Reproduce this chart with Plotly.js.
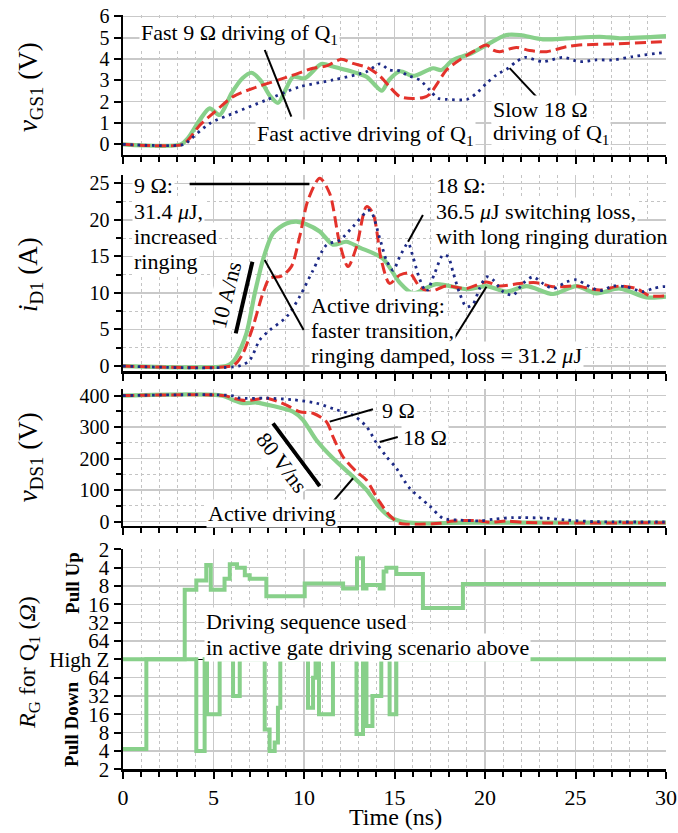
<!DOCTYPE html>
<html>
<head>
<meta charset="utf-8">
<script src="https://cdn.plot.ly/plotly-3.0.1.min.js"></script>
<style>html,body{margin:0;padding:0;background:#fff;}#chart{width:678px;height:833px;}</style>
</head>
<body>
<div id="chart"></div>
<script>
// ---------- Panel 1: gate-source voltage vGS1 (V) ----------
const vgsActiveT = [0,3.2,3.6,4.24,4.79,5.34,6.0,6.6,7.09,7.6,8.1,8.57,9.0,9.4,10.04,10.96,11.6,12.34,13.45,13.9,14.3,14.7,15.3,16.02,17.13,17.59,18.23,19.15,20.08,21.18,21.92,23.2,24.5,26.34,27.44,30];
const vgsActive  = [0,0,0.3,1.14,1.69,1.38,2.4,3.1,3.36,3.0,2.3,1.95,2.6,3.17,3.1,3.77,3.65,3.49,3.17,2.8,2.52,3.02,3.43,3.21,3.57,3.49,3.96,4.24,4.66,5.13,5.13,4.93,4.97,5.05,4.98,5.08];
const vgs9T = [0,3.3,3.7,4.24,4.97,6.08,7.18,8.29,9.39,10.5,11.24,12.07,12.7,13.5,14.2,14.73,15.3,16.0,16.6,16.94,17.4,17.87,18.6,19.34,20.08,20.44,20.8,21.73,22.47,23.4,24.5,25.2,27.07,30];
const vgs9  = [0,0,0.3,0.9,1.45,2.24,2.63,2.94,3.25,3.57,3.68,3.99,3.8,3.6,3.2,2.7,2.24,2.15,2.2,2.35,2.9,3.49,3.96,4.35,4.66,4.43,4.35,4.55,4.40,4.35,4.58,4.66,4.71,4.82];
const vgs18T = [0,3.4,3.68,4.79,6.08,7.92,9.76,11.6,13.45,14.2,14.7,15.3,15.66,16.39,16.94,17.4,17.9,19.0,19.52,20.08,20.63,21.27,21.73,22.2,23.2,24.3,25.23,26.15,27.07,28.18,29.83,30];
const vgs18  = [0,0,0.2,0.98,1.45,2.08,2.7,3.02,3.41,3.78,3.49,3.45,3.26,3.02,2.55,2.16,2.11,2.11,2.39,2.86,3.26,3.57,3.88,4.08,3.88,4.08,3.88,3.96,3.96,4.12,4.3,4.3];

// ---------- Panel 2: diode current iD1 (A) ----------
const idActiveT = [0,5.7,6.0,6.27,6.82,7.28,7.73,8.29,9.03,9.58,10.13,10.87,11.6,12.34,13.08,14.36,15.29,16.02,17.3,18.97,20.08,21.18,22.29,23.76,25.05,26.15,27.44,28.92,30];
const idActive  = [0,0,0.4,1.27,4.47,9.94,14.5,18.15,19.5,19.74,19.4,18.4,16.6,17.0,16.2,14.7,11.4,9.94,11.2,10.5,10.94,10.17,10.94,9.85,10.94,9.94,10.6,9.4,9.5];
const id9T = [0,6.0,6.3,6.63,7.18,7.73,8.1,8.75,9.3,9.76,10.22,10.87,11.42,11.97,12.43,12.9,13.45,13.81,14.27,14.73,15.29,15.84,16.39,16.94,17.87,18.97,20.08,20.8,21.92,22.84,23.76,25.05,26.34,27.44,28.37,29.1,30];
const id9  = [0,0,0.5,1.73,5.38,9.94,12.0,12.3,13.6,17.7,22.7,25.7,23.6,16.8,13.6,16.3,21.8,20.9,14.5,11.3,12.45,12.7,10.85,10.17,10.94,10.6,11.5,10.94,11.3,11.4,10.85,10.94,10.4,10.94,10.6,9.6,9.6];
const id18T = [0,6.4,7.0,7.55,8.1,9.03,9.76,10.5,11.24,11.97,12.7,13.63,14.18,14.55,14.92,15.29,15.75,16.02,16.39,16.76,17.22,17.68,17.96,18.25,18.6,18.97,19.34,19.7,20.08,20.44,21.0,21.55,22.1,22.65,23.2,23.76,24.5,25.05,25.6,26.34,27.07,27.8,28.73,29.28,29.83,30];
const id18  = [0,0,0.8,3.56,4.9,6.7,9.5,13.1,16.55,17.2,19.05,21.3,17.5,14.5,13.1,14.95,16.8,14.95,11.9,10.17,12.7,15.2,14.95,12.7,9.94,8.1,8.5,10.6,12.2,11.8,10.17,9.7,11.3,12.2,11.3,10.6,11.5,11.8,11.1,10.3,10.94,10.85,10.17,10.6,10.85,10.85];

// ---------- Panel 3: drain-source voltage vDS1 (V) ----------
const vdsActiveT = [0,5.5,6.08,6.63,7.37,8.29,9.39,9.94,10.68,11.6,12.7,13.45,14.18,14.73,15.29,16.0,16.94,18,20,25,30];
const vdsActive  = [400,400,386,376,378,367,349,323,259,201,143,101,45,16,2,-4,-6,-4,-3,-3,-3];
const vds9T = [0,5.6,6.08,6.82,7.92,9.03,9.76,10.5,11.24,11.6,12.15,12.89,13.45,14.0,14.18,14.73,15.29,16.4,17.5,18.23,19.5,20.26,21.18,22.1,23.5,30];
const vds9  = [400,400,392,384,392,370,349,344,317,270,206,159,132,79,63,20,-5,-8,-5,2,3.5,-2,2,-2,-4,-3];
const vds18T = [0,6.0,6.45,7.92,9.39,10.68,11.79,12.7,13.45,14.0,14.55,15.1,15.84,16.94,17.68,18.6,19.7,20.5,21.55,23.4,24.5,26.15,29.8,30];
const vds18  = [400,400,392,392,387,376,355,338,302,250,207,170,106,50,11,5,3,8,13,11,5,0,-1,-1];

// ---------- Panel 4: gate resistance sequence (ohm, 'Z' = high impedance) ----------
const pullUpT   = [0,3.41,4.05,4.6,4.85,5.61,5.9,6.3,6.73,7.0,7.92,10.04,12.16,12.93,13.26,13.45,14.18,14.4,14.55,15.1,16.57,18.78,30];
const pullUpOhm = ['Z',9.2,6.5,3.6,9.2,6.1,3.5,4,5.3,6.1,11.8,7.3,8.8,2.8,8.8,7.7,8.8,4.6,4.0,5.1,18.4,7.4,7.4];
const pullDownT   = [0,1.29,4.05,4.51,4.64,5.34,6.08,6.45,7.83,8.1,8.38,8.56,8.69,10.22,10.5,10.64,10.83,11.6,12.9,13.26,13.45,13.78,14.27,14.73,15.1,30];
const pullDownOhm = [4.3,'Z',4,'Z',16,'Z',32,'Z',9,4,5.5,20.6,'Z',20.6,64,'Z',16,'Z',7.6,'Z',10.3,32,'Z',16,'Z','Z'];
const rgTickText = ['2','4','8','16','32','64','High Z','64','32','16','8','4','2'];

// map resistance to the two-sided log2 position used by the axis
function upLevel(r){ return r === 'Z' ? 0 : 7 - Math.log2(r); }
function downLevel(r){ return r === 'Z' ? 0 : -(7 - Math.log2(r)); }

const FONT = "'Liberation Serif', 'Times New Roman', Times, serif";
const GREEN = '#88d08a', RED = '#e3322b', BLUE = '#1d2a86';

function lineTrace(x, y, xa, ya, kind){
  const st = {
    active: {color: GREEN, width: 4.2, dash: 'solid'},
    nine:   {color: RED, width: 3, dash: '11px,5px'},
    slow:   {color: BLUE, width: 2.8, dash: '2.6px,4.6px'}
  }[kind];
  return {x, y, xaxis: xa, yaxis: ya, type: 'scatter', mode: 'lines',
          line: {color: st.color, width: st.width, dash: st.dash, shape: 'spline', smoothing: 0.8},
          hoverinfo: 'skip', showlegend: false};
}

const data = [
  lineTrace(vgsActiveT, vgsActive, 'x', 'y', 'active'),
  lineTrace(vgs9T, vgs9, 'x', 'y', 'nine'),
  lineTrace(vgs18T, vgs18, 'x', 'y', 'slow'),
  lineTrace(idActiveT, idActive, 'x2', 'y2', 'active'),
  lineTrace(id9T, id9, 'x2', 'y2', 'nine'),
  lineTrace(id18T, id18, 'x2', 'y2', 'slow'),
  lineTrace(vdsActiveT, vdsActive, 'x3', 'y3', 'active'),
  lineTrace(vds9T, vds9, 'x3', 'y3', 'nine'),
  lineTrace(vds18T, vds18, 'x3', 'y3', 'slow'),
  {x: pullUpT, y: pullUpOhm.map(upLevel), xaxis: 'x4', yaxis: 'y4', type: 'scatter', mode: 'lines',
   line: {color: GREEN, width: 4, shape: 'hv'}, hoverinfo: 'skip', showlegend: false},
  {x: pullDownT, y: pullDownOhm.map(downLevel), xaxis: 'x4', yaxis: 'y4', type: 'scatter', mode: 'lines',
   line: {color: GREEN, width: 4, shape: 'hv'}, hoverinfo: 'skip', showlegend: false}
];

function xAxis(anchor, labels){
  return {range: [0, 30], domain: [0, 1], anchor, tick0: 0, dtick: 5,
    showgrid: true, gridcolor: '#c9c9c9', gridwidth: 1.5,
    showline: true, linecolor: 'black', linewidth: 2.5, zeroline: false,
    ticks: 'outside', ticklen: 7, tickwidth: 2, tickcolor: 'black',
    showticklabels: labels, tickfont: {family: FONT, size: 22, color: 'black'}, ticklabelstandoff: 0,
    minor: {tick0: 0, dtick: 1, showgrid: true, gridcolor: '#c4c4c4', griddash: 'dot', gridwidth: 1,
            ticks: 'outside', ticklen: 5, tickwidth: 2, tickcolor: 'black'},
    fixedrange: true};
}
function yAxis(anchor, domain, range, dtick, minorDtick){
  const a = {domain, range, anchor, tick0: 0, dtick,
    showgrid: true, gridcolor: '#c9c9c9', gridwidth: 1.5,
    showline: true, linecolor: 'black', linewidth: 2.5, zeroline: false,
    ticks: 'outside', ticklen: 7, tickwidth: 2, tickcolor: 'black',
    tickfont: {family: FONT, size: 20, color: 'black'}, fixedrange: true};
  if (minorDtick) a.minor = {tick0: 0, dtick: minorDtick, showgrid: true, gridcolor: '#c4c4c4', griddash: 'dot',
    gridwidth: 1, ticks: 'outside', ticklen: 5, tickwidth: 2, tickcolor: 'black'};
  return a;
}

const y4 = yAxis('x4', [0.07647, 0.34094], [-6, 6.02], 1, null);
y4.tickmode = 'array';
y4.tickvals = [6,5,4,3,2,1,0,-1,-2,-3,-4,-5,-6];
y4.ticktext = rgTickText;
y4.zeroline = true; y4.zerolinecolor = 'black'; y4.zerolinewidth = 1.5;
y4.tickfont = {family: FONT, size: 21, color: 'black'};

function txt(text, x, y, xref, yref, opts){
  return Object.assign({text, x, y, xref, yref, showarrow: false, xanchor: 'left', yanchor: 'middle',
    font: {family: FONT, size: 22, color: 'black'}, bgcolor: 'white', borderpad: 1}, opts || {});
}
function seg(x0, y0, x1, y1, xref, yref, w){
  return {type: 'line', x0, y0, x1, y1, xref, yref, layer: 'above', line: {color: 'black', width: w || 2}};
}
const P = 'paper';
const NOBG = 'rgba(0,0,0,0)';
const annotations = [
  // panel 1
  txt('Fast 9 Ω driving of Q<sub>1</sub>', 0.9, 5.2, 'x', 'y'),
  txt('Fast active driving of Q<sub>1</sub>', 7.3, 0.42, 'x', 'y'),
  txt('Slow 18 Ω', 20.35, 1.62, 'x', 'y'),
  txt('driving of Q<sub>1</sub>', 20.35, 0.5, 'x', 'y'),
  // panel 2
  txt('9 Ω:', 0.5, 24.76, 'x2', 'y2'),
  txt('31.4 <i>μ</i>J,', 0.5, 21.1, 'x2', 'y2'),
  txt('increased', 0.5, 17.78, 'x2', 'y2'),
  txt('ringing', 0.5, 14.27, 'x2', 'y2'),
  txt('18 Ω:', 17.2, 24.76, 'x2', 'y2'),
  txt('36.5 <i>μ</i>J switching loss,', 17.2, 21.1, 'x2', 'y2'),
  txt('with long ringing duration', 17.2, 17.7, 'x2', 'y2'),
  txt('10 A/ns', 5.67, 9.7, 'x2', 'y2', {xanchor: 'center', textangle: -76}),
  txt('Active driving:', 10.3, 8.34, 'x2', 'y2'),
  txt('faster transition,', 10.3, 4.92, 'x2', 'y2'),
  txt('ringing damped, loss = 31.2 <i>μ</i>J', 10.3, 1.5, 'x2', 'y2'),
  // panel 3
  txt('9 Ω', 14.2, 354, 'x3', 'y3'),
  txt('18 Ω', 15.35, 266, 'x3', 'y3'),
  txt('80 V/ns', 8.79, 189, 'x3', 'y3', {xanchor: 'center', textangle: 53}),
  txt('Active driving', 4.6, 27, 'x3', 'y3'),
  // panel 4
  txt('Driving sequence used', 4.45, 2.04, 'x4', 'y4'),
  txt('in active gate driving scenario above', 4.45, 0.63, 'x4', 'y4'),
  // axis titles
  txt('<i>v</i><sub>GS1</sub> (V)', -0.171, 0.8956, P, P, {xanchor: 'center', textangle: -90, bgcolor: NOBG, font: {family: FONT, size: 27, color: 'black'}}),
  txt('<i>i</i><sub>D1</sub> (A)', -0.171, 0.6699, P, P, {xanchor: 'center', textangle: -90, bgcolor: NOBG, font: {family: FONT, size: 27, color: 'black'}}),
  txt('<i>v</i><sub>DS1</sub> (V)', -0.171, 0.4514, P, P, {xanchor: 'center', textangle: -90, bgcolor: NOBG, font: {family: FONT, size: 27, color: 'black'}}),
  txt('<i>R</i><sub>G</sub> for Q<sub>1</sub> (<i>Ω</i>)', -0.173, 0.2041, P, P, {xanchor: 'center', textangle: -90, bgcolor: NOBG, font: {family: FONT, size: 24, color: 'black'}}),
  txt('<b>Pull Up</b>', -0.094, 0.3001, P, P, {xanchor: 'center', textangle: -90, bgcolor: NOBG, font: {family: FONT, size: 19, color: 'black'}}),
  txt('<b>Pull Down</b>', -0.094, 0.1309, P, P, {xanchor: 'center', textangle: -90, bgcolor: NOBG, font: {family: FONT, size: 19, color: 'black'}}),
  txt('Time (ns)', 0.501, 0.003, P, P, {xanchor: 'center', yanchor: 'bottom', bgcolor: NOBG, borderpad: 0, font: {family: FONT, size: 24, color: 'black'}})
];

const shapes = [
  seg(7.83, 4.43, 9.3, 1.30, 'x', 'y'),
  seg(21.36, 3.58, 22.91, 2.17, 'x', 'y'),
  seg(3.68, 24.9, 10.3, 24.9, 'x2', 'y2', 2.5),
  seg(16.57, 20.66, 15.75, 17.0, 'x2', 'y2'),
  seg(7.15, 14.27, 6.23, 4.47, 'x2', 'y2', 4),
  seg(7.83, 14.5, 9.98, 4.92, 'x2', 'y2'),
  seg(20.08, 10.85, 17.96, 2.42, 'x2', 'y2'),
  seg(11.42, 317.5, 13.81, 356.8, 'x3', 'y3'),
  seg(14.18, 253, 15.18, 269, 'x3', 'y3'),
  seg(8.29, 312, 10.87, 113, 'x3', 'y3', 4),
  seg(11.6, 63.5, 12.71, 137.8, 'x3', 'y3')
];

const layout = {
  width: 678, height: 833,
  margin: {l: 123, r: 12, t: 0, b: 0},
  paper_bgcolor: 'white', plot_bgcolor: 'white',
  font: {family: FONT, color: 'black'},
  showlegend: false,
  xaxis: xAxis('y', false),
  xaxis2: xAxis('y2', false),
  xaxis3: xAxis('y3', false),
  xaxis4: xAxis('y4', true),
  yaxis: yAxis('x', [0.81393, 0.98199], [-0.5, 6.07], 1, null),
  yaxis2: yAxis('x2', [0.55462, 0.78992], [-0.68, 26.13], 5, 2.5),
  yaxis3: yAxis('x3', [0.36891, 0.53301], [-12.7, 421], 100, 50),
  yaxis4: y4,
  annotations, shapes
};

Plotly.newPlot('chart', data, layout, {displayModeBar: false, staticPlot: true});
</script>
</body>
</html>
